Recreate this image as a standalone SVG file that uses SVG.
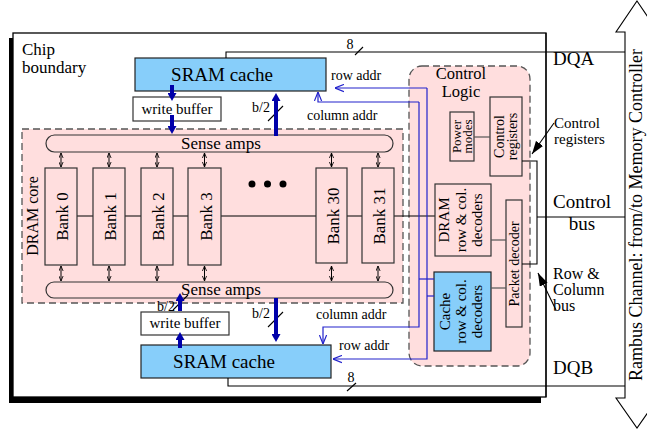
<svg xmlns="http://www.w3.org/2000/svg" width="647" height="430" viewBox="0 0 647 430">
<style>
text { font-family: "Liberation Serif", "Times New Roman", serif; fill: #000; }
.pink { fill: #ffdede; stroke: #555; stroke-width: 1.3; stroke-dasharray: 7 4; }
.box { fill: #ffdede; stroke: #333; stroke-width: 1.2; }
.cblue { fill: #87cefa; stroke: #222; stroke-width: 1.2; }
.wbox { fill: #fff; stroke: #333; stroke-width: 1.2; }
.ln { fill: none; stroke: #000; stroke-width: 1.1; }
.gl { fill: none; stroke: #555; stroke-width: 1.2; }
.bl { fill: none; stroke: #2222cc; stroke-width: 1.2; }
.thick { fill: none; stroke: #0000aa; stroke-width: 4; }
.dbl { fill: none; stroke: #000; stroke-width: 1; marker-start: url(#sa); marker-end: url(#sa); }
</style>
<defs>
<marker id="th" viewBox="0 0 8 9" markerWidth="8" markerHeight="9" refX="0" refY="4.5" orient="auto" markerUnits="userSpaceOnUse">
<path d="M0,0 L8,4.5 L0,9 z" fill="#0000aa"/>
</marker>
<marker id="ba" viewBox="0 0 10 10" markerWidth="9" markerHeight="9" refX="10" refY="5" orient="auto" markerUnits="userSpaceOnUse">
<path d="M0,1 L10,5 L0,9" fill="none" stroke="#2222cc" stroke-width="1.3"/>
</marker>
<marker id="sa" viewBox="0 0 6 6" markerWidth="5" markerHeight="5" refX="6" refY="3" orient="auto-start-reverse" markerUnits="userSpaceOnUse">
<path d="M0,0.5 L6,3 L0,5.5" fill="none" stroke="#000" stroke-width="1"/>
</marker>
<marker id="ka" viewBox="0 0 12 8" markerWidth="13" markerHeight="9" refX="12" refY="4" orient="auto" markerUnits="userSpaceOnUse">
<path d="M0,0 L12,4 L0,8 z" fill="#000"/>
</marker>
</defs>

<g id="chip">
<rect x="9" y="38" width="532" height="365" fill="#000"/>
<rect x="13" y="33" width="533" height="364" fill="#fff" stroke="#000" stroke-width="1.3"/>
<text x="22" y="55" font-size="17">Chip</text>
<text x="22" y="73" font-size="17">boundary</text>
</g>

<g id="rambus">
<polygon points="637,1 658,32 649,32 649,398 658,398 637,428 616,398 625,398 625,32 616,32" fill="#fff" stroke="#000" stroke-width="1.1"/>
<text transform="translate(642,215) rotate(-90)" text-anchor="middle" font-size="18">Rambus Channel: from/to Memory Controller</text>
</g>

<g id="dram-core">
<rect class="pink" x="22" y="129" width="381" height="174"/>
<text transform="translate(38,216) rotate(-90)" text-anchor="middle" font-size="16">DRAM core</text>
</g>

<g id="control-logic">
<rect class="pink" x="409" y="66" width="121" height="300" rx="13"/>
<text x="461" y="79" text-anchor="middle" font-size="16.5">Control</text>
<text x="461" y="97" text-anchor="middle" font-size="16.5">Logic</text>
</g>

<g id="connectors">
<line class="ln" x1="77" y1="216" x2="435" y2="216"/>
<line class="dbl" x1="61" y1="153" x2="61" y2="167"/>
<line class="dbl" x1="109" y1="153" x2="109" y2="167"/>
<line class="dbl" x1="157" y1="153" x2="157" y2="167"/>
<line class="dbl" x1="204.5" y1="153" x2="204.5" y2="167"/>
<line class="dbl" x1="331.5" y1="153" x2="331.5" y2="167"/>
<line class="dbl" x1="378" y1="153" x2="378" y2="167"/>
<line class="dbl" x1="61" y1="266" x2="61" y2="281"/>
<line class="dbl" x1="109" y1="266" x2="109" y2="281"/>
<line class="dbl" x1="157" y1="266" x2="157" y2="281"/>
<line class="dbl" x1="204.5" y1="266" x2="204.5" y2="281"/>
<line class="dbl" x1="331.5" y1="266" x2="331.5" y2="281"/>
<line class="dbl" x1="378" y1="266" x2="378" y2="281"/>
</g>

<g id="sense-top">
<rect class="box" x="46" y="135" width="347" height="17" rx="8.5"/>
<text x="221" y="148.5" text-anchor="middle" font-size="17">Sense amps</text>
</g>
<g id="sense-bottom">
<rect class="box" x="46" y="282" width="347" height="16" rx="8"/>
<text x="221" y="294.5" text-anchor="middle" font-size="17">Sense amps</text>
</g>

<g id="bank0"><rect class="box" x="45" y="168" width="32" height="97"/><text transform="translate(68,216.5) rotate(-90)" text-anchor="middle" font-size="17">Bank 0</text></g>
<g id="bank1"><rect class="box" x="93" y="168" width="32" height="97"/><text transform="translate(116,216.5) rotate(-90)" text-anchor="middle" font-size="17">Bank 1</text></g>
<g id="bank2"><rect class="box" x="141" y="168" width="32" height="97"/><text transform="translate(164,216.5) rotate(-90)" text-anchor="middle" font-size="17">Bank 2</text></g>
<g id="bank3"><rect class="box" x="188" y="168" width="33" height="97"/><text transform="translate(211.5,216.5) rotate(-90)" text-anchor="middle" font-size="17">Bank 3</text></g>
<g id="bank30"><rect class="box" x="316" y="168" width="31" height="95"/><text transform="translate(338.5,216) rotate(-90)" text-anchor="middle" font-size="17">Bank 30</text></g>
<g id="bank31"><rect class="box" x="362" y="168" width="32" height="95"/><text transform="translate(385,216) rotate(-90)" text-anchor="middle" font-size="17">Bank 31</text></g>
<g id="dots">
<circle cx="252" cy="184" r="3.5"/><circle cx="267.5" cy="184" r="3.5"/><circle cx="283" cy="184" r="3.5"/>
</g>

<g id="power-modes">
<rect class="box" x="450" y="112" width="24" height="49"/>
<text transform="translate(460.5,136.5) rotate(-90)" text-anchor="middle" font-size="13"><tspan x="0" y="0">Power</tspan><tspan x="0" dy="11">modes</tspan></text>
</g>
<g id="control-registers">
<rect class="box" x="490" y="97" width="32" height="79"/>
<text transform="translate(504,136.5) rotate(-90)" text-anchor="middle" font-size="14"><tspan x="0" y="0">Control</tspan><tspan x="0" dy="13">registers</tspan></text>
</g>
<g id="dram-decoders">
<rect class="box" x="435" y="184" width="56" height="72"/>
<text transform="translate(449,220) rotate(-90)" text-anchor="middle" font-size="15"><tspan x="0" y="0">DRAM</tspan><tspan x="0" dy="16.5">row &amp; col.</tspan><tspan x="0" dy="16.5">decoders</tspan></text>
</g>
<g id="cache-decoders">
<rect class="cblue" x="434" y="272" width="57" height="79"/>
<text transform="translate(450,311.5) rotate(-90)" text-anchor="middle" font-size="15"><tspan x="0" y="0">Cache</tspan><tspan x="0" dy="16">row &amp; col.</tspan><tspan x="0" dy="16">decoders</tspan></text>
</g>
<g id="packet-decoder">
<rect class="box" x="506" y="200" width="16" height="127"/>
<text transform="translate(519,264) rotate(-90)" text-anchor="middle" font-size="14">Packet decoder</text>
</g>

<g id="sram-top">
<rect class="cblue" x="135" y="58" width="191" height="33"/>
<text x="222" y="81" text-anchor="middle" font-size="19">SRAM cache</text>
</g>
<g id="wb-top">
<rect class="wbox" x="133" y="97" width="88" height="24"/>
<text x="177" y="113.5" text-anchor="middle" font-size="15">write buffer</text>
</g>
<text x="157" y="311" font-size="14">b/2</text>
<g id="wb-bottom">
<rect class="wbox" x="141" y="312" width="88" height="23"/>
<text x="185" y="328" text-anchor="middle" font-size="15">write buffer</text>
</g>
<g id="sram-bottom">
<rect class="cblue" x="141" y="345" width="190" height="33"/>
<text x="224" y="368" text-anchor="middle" font-size="19">SRAM cache</text>
</g>

<g id="buses">
<path class="ln" d="M226,58 V52 H625"/>
<path class="ln" d="M228,378 V386 H625"/>
<line class="ln" x1="546" y1="33" x2="546" y2="397"/>
<line class="ln" x1="355" y1="55" x2="363" y2="47"/>
<line class="ln" x1="347" y1="391" x2="356" y2="383"/>
<line class="ln" x1="268" y1="121" x2="283" y2="106"/>
<line class="ln" x1="268" y1="327" x2="283" y2="312"/>
<line class="ln" x1="173" y1="310" x2="188" y2="295"/>
<path class="gl" d="M474,137 H490"/>
<path class="gl" d="M491,240 H506"/>
<path class="gl" d="M491,288 H506"/>
<path class="ln" d="M522,161 H537 V264 H522"/>
<line class="ln" x1="537" y1="217" x2="625" y2="217"/>
<path class="bl" d="M427,88 H335" marker-end="url(#ba)"/>
<path class="bl" d="M427,88 V359 H333" marker-end="url(#ba)"/>
<path class="bl" d="M419,102 H318 V92" marker-end="url(#ba)"/>
<path class="bl" d="M419,102 V327 H323 V344" marker-end="url(#ba)"/>
<path class="bl" d="M419,279 H434"/>
<path class="bl" d="M427,296 H434"/>
<line class="thick" x1="172" y1="85" x2="172" y2="93" marker-end="url(#th)"/>
<line class="thick" x1="172" y1="115" x2="172" y2="126" marker-end="url(#th)"/>
<line class="thick" x1="276" y1="136" x2="276" y2="101" marker-end="url(#th)"/>
<line class="thick" x1="276" y1="298" x2="276" y2="334" marker-end="url(#th)"/>
<line class="thick" x1="180" y1="348" x2="180" y2="340" marker-end="url(#th)"/>
<line class="thick" x1="180" y1="311" x2="180" y2="301" marker-end="url(#th)"/>
<line class="ln" x1="554" y1="123" x2="532" y2="154" marker-end="url(#ka)"/>
<line class="ln" x1="556" y1="310" x2="538" y2="273" marker-end="url(#ka)"/>
</g>

<g id="labels">
<text x="350" y="49" text-anchor="middle" font-size="14">8</text>
<text x="351" y="382" text-anchor="middle" font-size="14">8</text>
<text x="252" y="112" font-size="14">b/2</text>
<text x="252" y="318" font-size="14">b/2</text>
<text x="331" y="80" font-size="14">row addr</text>
<text x="307" y="120" font-size="14">column addr</text>
<text x="316" y="319" font-size="14">column addr</text>
<text x="339" y="350" font-size="14">row addr</text>
<text x="553" y="65" font-size="19">DQA</text>
<text x="553" y="374" font-size="19">DQB</text>
<text x="554" y="128" font-size="15">Control</text>
<text x="554" y="144" font-size="15">registers</text>
<text x="582" y="208" text-anchor="middle" font-size="19">Control</text>
<text x="582" y="230" text-anchor="middle" font-size="19">bus</text>
<text x="553" y="279" font-size="16">Row &amp;</text>
<text x="553" y="295" font-size="16">Column</text>
<text x="553" y="311" font-size="16">bus</text>
</g>
</svg>
